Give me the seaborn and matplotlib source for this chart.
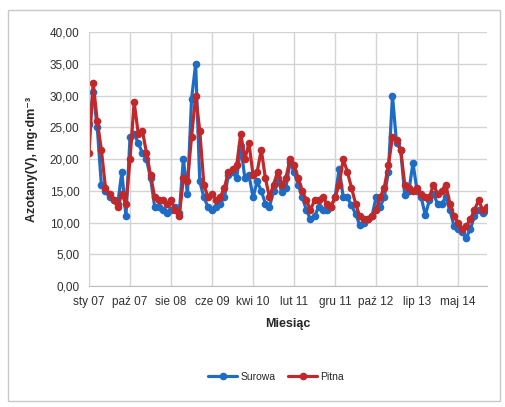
import pandas as pd
import matplotlib.pyplot as plt
import seaborn as sns
from matplotlib.patches import Rectangle

# Nitrate concentration, raw vs drinking water
surowa = [25.5, 30.5, 25.0, 16.0, 15.0, 14.0, 13.5, 13.0, 18.0, 11.0,
          23.5, 24.0, 22.5, 21.0, 20.0, 17.0, 12.5, 12.5, 12.0, 11.5,
          12.0, 12.5, 11.5, 20.0, 14.5, 29.5, 35.0, 16.5, 14.0, 12.5,
          12.0, 12.5, 13.0, 14.0, 17.5, 18.0, 17.0, 22.0, 17.0, 17.5,
          14.0, 16.5, 15.0, 13.0, 12.5, 15.0, 17.0, 14.8, 15.5, 19.5,
          18.0, 16.0, 14.0, 12.0, 10.5, 11.0, 12.5, 12.0, 12.0, 12.5,
          14.0, 18.5, 14.0, 14.0, 12.7, 11.4, 9.6, 10.0, 10.5, 11.0,
          14.0, 12.5, 14.0, 18.0, 30.0, 22.5, 21.5, 14.3, 15.0, 19.4,
          15.0, 14.0, 11.2, 13.5, 14.5, 13.0, 13.0, 14.0, 12.0, 9.5,
          9.0, 8.5, 7.6, 9.0, 11.0, 12.0, 11.5, 12.0]
pitna = [21.0, 32.0, 26.0, 21.5, 15.5, 14.5, 13.5, 12.5, 14.5, 13.0,
         20.0, 29.0, 24.0, 24.5, 21.0, 17.5, 14.0, 13.5, 13.5, 13.0,
         13.5, 12.0, 11.0, 17.0, 16.5, 23.5, 30.0, 24.5, 16.0, 14.0,
         14.5, 13.5, 14.0, 15.5, 18.0, 18.5, 19.0, 24.0, 20.0, 22.5,
         17.5, 18.0, 21.5, 17.0, 14.0, 16.0, 18.0, 16.0, 17.0, 20.0,
         19.0, 17.0, 15.0, 13.5, 12.0, 13.5, 13.5, 14.0, 13.0, 12.5,
         14.0, 16.0, 20.0, 18.0, 15.5, 13.0, 11.0, 10.5, 10.5, 11.0,
         12.0, 14.0, 15.5, 19.0, 23.5, 23.0, 21.5, 16.0, 15.5, 15.0,
         15.5, 14.5, 14.0, 14.0, 16.0, 14.5, 15.0, 16.0, 13.0, 11.0,
         10.0, 9.0, 9.5, 10.5, 12.0, 13.5, 12.0, 12.5]

tick_labels = ['sty 07', 'paź 07', 'sie 08', 'cze 09', 'kwi 10',
               'lut 11', 'gru 11', 'paź 12', 'lip 13', 'maj 14']
label_step = 10

n = len(surowa)
df = pd.DataFrame({
    'idx': list(range(n)) * 2,
    'value': surowa + pitna,
    'series': ['Surowa'] * n + ['Pitna'] * n,
})

sns.set_style("white")
plt.rcParams['font.family'] = ['Liberation Sans', 'DejaVu Sans']

fig = plt.figure(figsize=(5.06, 4.07), dpi=100)
fig.patches.append(Rectangle((0.016, 0.015), 0.972, 0.96, transform=fig.transFigure,
                             fill=False, edgecolor='#c8c8c8', linewidth=1))
ax = fig.add_axes([0.176, 0.297, 0.786, 0.624])

sns.lineplot(data=df, x='idx', y='value', hue='series',
             hue_order=['Surowa', 'Pitna'],
             palette={'Surowa': '#1f6cc4', 'Pitna': '#c0282a'},
             marker='o', markersize=5.5, markeredgewidth=0,
             linewidth=2.3, ax=ax)

ax.set_xlim(0, n - 1)
ax.set_ylim(0, 40)
ax.set_yticks(range(0, 41, 5))
ax.set_yticklabels([f'{v},00' for v in range(0, 41, 5)], fontsize=8.5)
ax.set_xticks(range(0, label_step * len(tick_labels), label_step))
ax.set_xticklabels(tick_labels, fontsize=8.5)
ax.tick_params(length=0, pad=7, colors='#303030')
ax.grid(True, color='#d4d4d4', linewidth=1)
for side in ['top', 'right']:
    ax.spines[side].set_visible(False)
ax.spines['left'].set_color('#d4d4d4')
ax.spines['bottom'].set_color('#bfbfbf')

ax.set_xlabel('Miesiąc', fontsize=9, fontweight='bold', labelpad=7)
ax.set_ylabel('Azotany(V), mg·dm⁻³', fontsize=9, fontweight='bold', labelpad=8)

ax.legend(loc='upper center', bbox_to_anchor=(0.47, -0.3), ncol=2,
          frameon=False, fontsize=7.5, handlelength=2.8, columnspacing=1.2,
          handletextpad=0.3)

plt.savefig('out.png', dpi=100)
